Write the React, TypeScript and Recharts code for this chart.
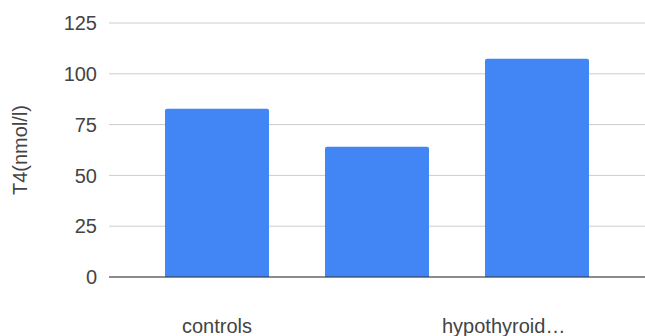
import React from 'react';
import { BarChart, Bar, XAxis, YAxis, CartesianGrid } from 'recharts';

const groups = ['controls', 'hypothyroid untreated', 'hypothyroid…'];
const t4Values = [82.8, 64.1, 107.4];
const yTicks = [0, 25, 50, 75, 100, 125];

const data = groups.map((name, i) => ({ name, t4: t4Values[i] }));

const FONT = '"Liberation Sans", Arial, sans-serif';

// Google-style category ticks: the middle label is dropped, long labels get cut
const CategoryTick = ({ x, y, payload, index }: any) => {
  if (index === 1) return <g />;
  const truncated = String(payload.value).endsWith('…');
  return (
    <text
      x={truncated ? x - 95 : x}
      y={y}
      dy={48}
      textAnchor={truncated ? 'start' : 'middle'}
      fill="#444"
      fontSize={20}
      fontFamily={FONT}
    >
      {payload.value}
    </text>
  );
};

const App: React.FC = () => {
  return (
    <div style={{ position: 'absolute', left: 0, top: 0, background: '#fff' }}>
      <BarChart
        width={645}
        height={336}
        data={data}
        margin={{ top: 23, right: 0, bottom: 0, left: 0 }}
      >
        <CartesianGrid horizontal vertical={false} stroke="#ccc" />
        <XAxis
          dataKey="name"
          interval={0}
          height={59}
          padding={{ left: 28, right: 28 }}
          tickLine={false}
          axisLine={{ stroke: '#333', strokeWidth: 1 }}
          tick={<CategoryTick />}
        />
        <YAxis
          domain={[0, 125]}
          ticks={yTicks}
          width={109}
          axisLine={false}
          tickLine={false}
          tickMargin={6}
          tick={{ fill: '#444', fontSize: 20, fontFamily: FONT }}
          label={{
            value: 'T4(nmol/l)',
            angle: -90,
            position: 'insideLeft',
            offset: 20,
            style: { fill: '#444', fontSize: 20, fontFamily: FONT, textAnchor: 'middle' },
          }}
        />
        <Bar
          dataKey="t4"
          fill="#4285f4"
          barSize={104}
          radius={[2, 2, 0, 0]}
          isAnimationActive={false}
        />
      </BarChart>
    </div>
  );
};

export default App;
